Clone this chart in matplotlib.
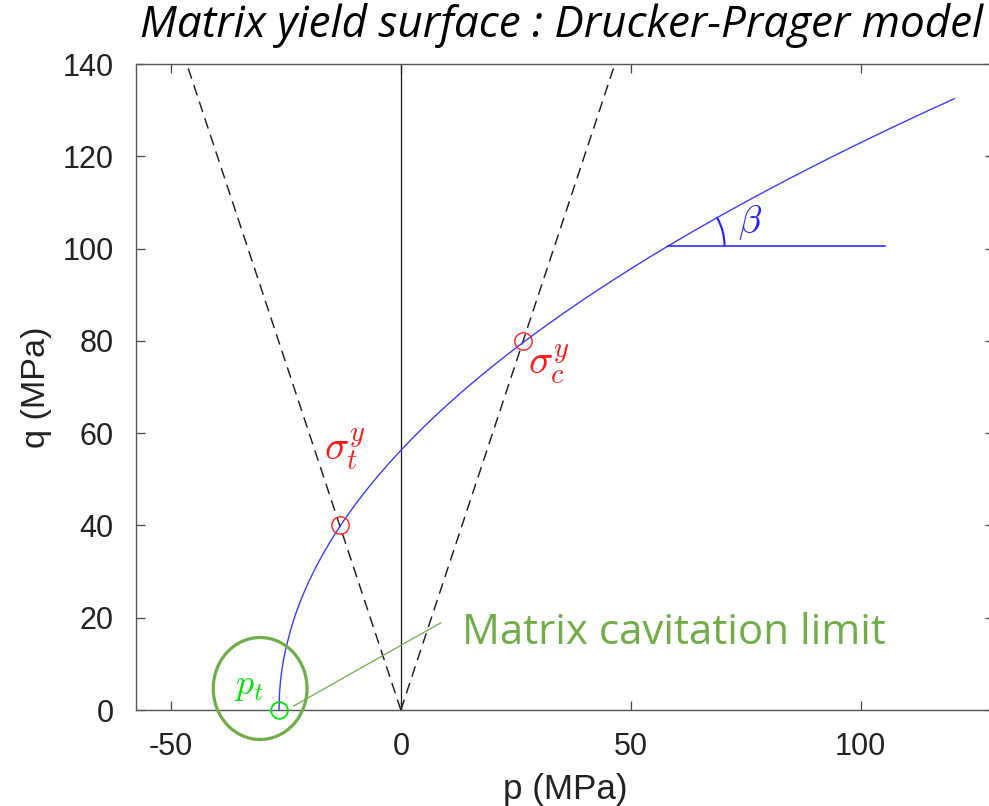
import matplotlib
matplotlib.use("Agg")
import matplotlib.pyplot as plt
from matplotlib.patches import Arc, Ellipse

# ---- data ----
curve_p = [-26.5, -26.4, -26.2, -26.0, -25.8, -25.5, -25.0, -24.0, -23.0, -22.0, -21.0,
           -20.0, -18.5, -17.0, -15.0, -13.0, -11.5, -10.0, -8.0, -6.5, -5.0, -2.5,
           0.0, 2.5, 5.0, 7.5, 10.0, 12.5, 15.0, 17.5, 20.0, 23.5, 27.0, 30.0, 35.0,
           40.0, 45.0, 50.0, 54.0, 58.0, 64.0, 70.0, 75.0, 80.0, 85.0, 90.0, 95.0,
           100.0, 105.0, 110.0, 115.0, 120.4]
curve_q = [0.0, 3.46, 5.99, 7.73, 9.15, 10.93, 13.39, 17.28, 20.45, 23.19, 25.64,
           27.87, 30.92, 33.69, 37.07, 40.17, 42.34, 44.40, 47.02, 48.89, 50.69, 53.55,
           56.27, 58.87, 61.35, 63.74, 66.04, 68.27, 70.42, 72.51, 74.54, 77.30, 79.96,
           82.17, 85.73, 89.14, 92.43, 95.61, 98.08, 100.49, 103.99, 107.39, 110.13,
           112.81, 115.43, 117.99, 120.50, 122.95, 125.36, 127.72, 130.04, 132.49]

sigma_t = (-13.3, 40.0)
sigma_c = (26.6, 80.0)
p_t = (-26.5, 0.0)
q_top = 140.0

beta_p = [58.0, 105.4]
beta_q = 100.6
beta_angle = 30.0

callout_p = [-23.3, 8.7]
callout_q = [0.87, 18.9]

xticks = [-50, 0, 50, 100]
yticks = [0, 20, 40, 60, 80, 100, 120, 140]

title_text = "Matrix yield surface : Drucker-Prager model"
note_text = "Matrix cavitation limit"

# ---- figure ----
plt.rcParams['mathtext.fontset'] = 'cm'
plt.rcParams['axes.unicode_minus'] = False
W, H = 989, 806
fig = plt.figure(figsize=(W / 100, H / 100), dpi=100)
ax_l, ax_r, ax_t, ax_b = 136, 994, 64, 710
ax = fig.add_axes([ax_l / W, 1 - ax_b / H, (ax_r - ax_l) / W, (ax_b - ax_t) / H])
ax.set_xlim(-57.6, 129.0)
ax.set_ylim(0, 140)

green_dark = '#70AD47'
green_bright = '#00E600'

# vertical axis line at p=0
ax.plot([0, 0], [0, q_top], color='#1a1a1a', lw=0.9, zorder=2)

# dashed lines through origin and yield points
for (pp, qq) in (sigma_t, sigma_c):
    ax.plot([0, pp * q_top / qq], [0, q_top], color='#1e1e1e', lw=1.05,
            linestyle=(0, (7.5, 4.5)), zorder=2)

# yield curve
ax.plot(curve_p, curve_q, color='#3b3bff', lw=1.0, zorder=3)

# beta construction
ax.plot(beta_p, [beta_q, beta_q], color='#1f1fff', lw=1.1, zorder=3)
r_px = 57
ax.add_patch(Arc((beta_p[0], beta_q), 2 * r_px / 4.6, 2 * r_px / 4.614,
                 theta1=0, theta2=beta_angle, color='#1f1fff', lw=1.5, zorder=3))
ax.text(75.9, 105.7, r'$\beta$', color='#1f1fff', fontsize=27, ha='center', va='center')

# yield points
ax.plot([sigma_t[0], sigma_c[0]], [sigma_t[1], sigma_c[1]], 'o', ms=12.5, mfc='none',
        mec='#ff2020', mew=1.0, zorder=4)
ax.text(-12.2, 56.4, r'$\sigma_t^y$', color='#ff1a1a', fontsize=29, ha='center', va='center')
ax.text(32.2, 74.6, r'$\sigma_c^y$', color='#ff1a1a', fontsize=29, ha='center', va='center')

# cavitation point
ax.plot([p_t[0]], [p_t[1]], 'o', ms=12, mfc='none', mec=green_bright, mew=1.3,
        zorder=5, clip_on=False)
ax.text(-33.0, 5.1, r'$p_t$', color=green_bright, fontsize=26, ha='center', va='center')

# callout
ax.add_patch(Ellipse((-30.6, 4.66), 20.4, 22.1, fill=False, edgecolor=green_dark,
                     lw=2.3, clip_on=False, zorder=6))
ax.plot(callout_p, callout_q, color=green_dark, lw=0.9, zorder=6)
note = ax.text(13.3, 14.4, note_text, color=green_dark, fontsize=33,
               family='Open Sans', ha='left', va='baseline')

# axes styling
for s in ax.spines.values():
    s.set_color('#555555')
    s.set_linewidth(1.0)
ax.set_xticks(xticks)
ax.set_yticks(yticks)
ax.tick_params(direction='in', length=6.5, width=0.9, color='#444444',
               top=True, right=True, labelsize=22, labelcolor='#222222', pad=16)
for lab in ax.get_xticklabels() + ax.get_yticklabels():
    lab.set_family('Liberation Sans')

ax.set_xlabel('p (MPa)', fontsize=24, family='Liberation Sans', color='#222222', va='center')
ax.set_ylabel('q (MPa)', fontsize=24, family='Liberation Sans', color='#222222', va='center')
ax.xaxis.set_label_coords(0.5, (ax_b - 790) / (ax_b - ax_t))
ax.yaxis.set_label_coords((36 - ax_l) / (ax_r - ax_l), 0.5)

title = fig.text(140 / W, 1 - 37 / H, title_text, fontsize=28, style='italic',
                 family='Open Sans', color='black', ha='left', va='baseline')

# fit text extents to the reference
fig.canvas.draw()
r = fig.canvas.get_renderer()
for t, target in ((title, 985 - 140), (note, 887 - 462), (ax.xaxis.label, 125)):
    w = t.get_window_extent(r).width
    t.set_fontsize(t.get_fontsize() * target / w)
hy = ax.yaxis.label.get_window_extent(r).height
ax.yaxis.label.set_fontsize(ax.yaxis.label.get_fontsize() * 122 / hy)

fig.savefig('out.png', dpi=100)
